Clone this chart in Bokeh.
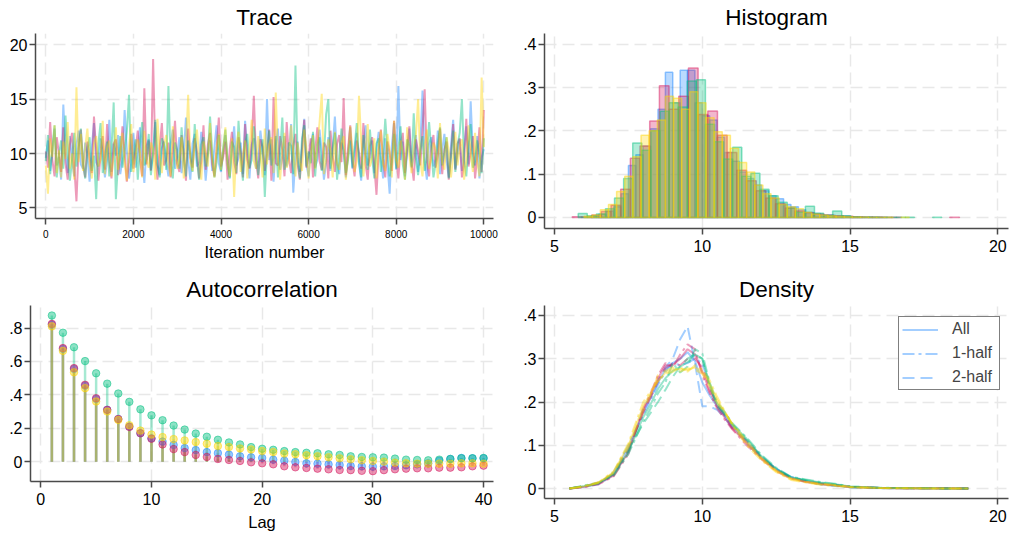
from bokeh.plotting import figure
from bokeh.layouts import column, row
from bokeh.models import FixedTicker, Range1d, Legend, LegendItem
from bokeh.embed import file_html
from bokeh.resources import INLINE

FONT = "Liberation Sans"
CHAIN_COLORS = ["#1a85ff", "#d41159", "#00bf7f", "#ffd400"]
AXIS_COLOR = "#4a4a4a"
GRID_COLOR = "#e8e8e8"

# ---------------- Trace data (sampled every 50 iterations) ----------------
iterations = list(range(0, 10001, 50))
trace_blue = [
    9.6, 11.2, 8.4, 10.1, 12.3, 8.9, 9.7, 7.6, 14.5, 10.4, 8.2, 11.6, 9.3, 7.9, 10.8, 12.1, 9.0, 8.6, 11.0, 9.9,
    7.4, 10.6, 12.8, 9.2, 8.8, 11.4, 10.0, 7.8, 9.5, 13.1, 8.3, 10.9, 9.8, 11.7, 8.1, 9.4, 14.0, 10.3, 7.7, 9.1,
    11.9, 8.7, 10.2, 12.4, 9.6, 7.3, 10.7, 11.3, 8.5, 9.9, 12.9, 9.0, 8.0, 10.5, 11.1, 9.3, 7.9, 10.8, 12.2, 8.6,
    9.7, 11.5, 8.2, 10.0, 13.3, 9.4, 7.6, 10.9, 11.8, 8.8, 9.2, 12.0, 10.4, 7.5, 9.8, 11.2, 8.4, 10.6, 12.6, 9.1,
    8.3, 10.1, 11.7, 9.5, 7.8, 10.3, 12.5, 8.9, 9.6, 11.0, 8.1, 13.0, 9.9, 7.7, 10.8, 11.4, 8.6, 9.3, 12.1, 10.2,
    8.0, 15.0, 9.4, 11.3, 7.4, 10.7, 12.3, 8.5, 9.8, 11.6, 8.8, 10.0, 12.7, 6.4, 9.7, 11.1, 8.3, 10.5, 13.2, 9.0,
    7.9, 10.9, 11.8, 8.7, 9.5, 12.2, 10.1, 7.6, 9.2, 11.5, 8.4, 10.6, 13.4, 9.3, 8.1, 11.0, 10.3, 7.8, 9.9, 12.4,
    8.6, 10.2, 11.9, 9.1, 7.5, 10.8, 12.6, 8.9, 9.6, 11.2, 8.2, 10.4, 12.0, 9.7, 7.7, 11.4, 9.0, 6.3, 10.7, 12.8,
    8.5, 16.2, 9.4, 11.1, 7.9, 10.0, 12.3, 8.7, 9.8, 11.7, 8.3, 10.6, 15.8, 9.2, 7.6, 10.9, 11.5, 8.8, 9.5, 12.1,
    8.1, 10.3, 11.8, 9.3, 7.8, 10.7, 13.1, 8.6, 9.9, 11.3, 8.4, 10.5, 12.5, 9.0, 14.8, 10.1, 8.9, 11.6, 7.7, 9.6,
    10.4]
trace_pink = [
    10.2, 8.7, 12.9, 9.4, 7.9, 11.5, 10.0, 8.3, 12.4, 9.1, 7.6, 10.8, 11.9, 8.8, 5.6, 10.5, 12.2, 9.0, 7.8, 11.1,
    9.6, 8.2, 13.4, 10.3, 7.5, 9.8, 11.6, 8.5, 12.7, 9.3, 7.7, 10.9, 11.3, 8.0, 9.7, 12.5, 10.1, 7.4, 9.2, 11.8,
    8.6, 10.4, 12.1, 9.5, 7.9, 16.0, 9.0, 11.2, 8.4, 18.7, 9.9, 7.6, 10.6, 12.8, 8.9, 9.4, 11.0, 7.8, 10.3, 13.0,
    9.1, 8.3, 11.7, 10.0, 7.5, 12.3, 9.6, 8.7, 11.4, 10.2, 7.7, 9.3, 12.6, 8.5, 10.8, 11.9, 9.0, 7.9, 10.5, 13.3,
    8.8, 9.7, 11.1, 7.6, 10.4, 12.0, 9.2, 8.1, 11.5, 10.1, 7.8, 12.7, 9.5, 8.6, 10.9, 15.3, 9.4, 7.7, 11.3, 10.6,
    8.4, 9.9, 12.2, 7.5, 15.2, 9.1, 8.9, 11.6, 10.3, 7.9, 12.9, 9.6, 8.2, 10.7, 11.8, 9.0, 7.6, 10.5, 13.1, 8.7,
    9.8, 11.4, 7.8, 10.2, 12.4, 9.3, 8.5, 11.0, 10.6, 7.7, 12.1, 9.7, 8.3, 10.9, 11.7, 9.2, 15.1, 8.0, 10.4, 12.6,
    9.4, 7.9, 11.2, 10.1, 8.6, 12.8, 9.0, 7.6, 10.7, 11.5, 8.8, 6.2, 10.3, 12.2, 9.5, 7.8, 11.1, 10.0, 8.4, 13.0,
    9.6, 7.7, 10.8, 11.9, 8.2, 10.5, 12.5, 9.1, 7.5, 11.3, 10.2, 8.9, 12.0, 15.9, 9.3, 7.9, 10.6, 11.7, 8.7, 9.9,
    12.3, 8.1, 10.4, 11.1, 7.6, 9.8, 12.7, 8.5, 10.9, 11.4, 7.8, 9.2, 13.2, 8.8, 10.1, 11.6, 7.7, 9.7, 12.4, 8.3,
    14.0]
trace_green = [
    9.3, 11.7, 8.1, 10.5, 12.6, 7.8, 9.9, 11.2, 8.6, 13.5, 10.0, 7.5, 9.4, 11.9, 8.8, 10.7, 12.3, 9.1, 7.7, 10.3,
    11.5, 8.4, 9.8, 5.8, 10.9, 12.8, 8.2, 9.6, 11.1, 7.9, 10.4, 14.7, 5.8, 9.2, 11.6, 8.7, 10.1, 12.0, 15.4, 8.3,
    9.7, 11.3, 7.6, 10.6, 12.9, 8.9, 9.5, 11.8, 8.0, 10.2, 13.1, 9.0, 7.8, 11.4, 10.8, 8.5, 16.2, 9.3, 7.7, 11.0,
    10.3, 8.6, 12.4, 9.6, 7.9, 11.2, 10.0, 8.3, 12.7, 9.4, 7.6, 10.8, 11.5, 8.8, 9.9, 13.4, 10.1, 7.8, 9.2, 11.7,
    8.4, 10.5, 12.2, 9.0, 7.7, 11.1, 10.6, 8.2, 13.0, 9.7, 7.5, 10.9, 11.8, 8.7, 9.4, 12.5, 10.2, 8.0, 9.8, 11.3,
    6.0, 10.4, 12.1, 8.9, 9.6, 11.6, 7.8, 10.0, 13.3, 8.5, 9.3, 11.0, 10.7, 8.1, 18.1, 9.5, 7.7, 11.4, 12.6, 8.8,
    10.2, 9.1, 12.0, 7.9, 10.8, 11.5, 8.4, 9.7, 13.6, 15.0, 8.6, 10.5, 11.9, 7.6, 9.8, 12.3, 10.1, 8.2, 9.4, 11.2,
    8.7, 10.6, 12.8, 9.3, 7.8, 11.7, 10.0, 8.5, 12.2, 9.6, 7.7, 10.9, 11.4, 8.3, 9.9, 13.2, 10.3, 7.9, 9.2, 11.8,
    8.6, 10.4, 12.5, 9.0, 7.6, 11.3, 10.7, 8.8, 13.7, 9.5, 8.0, 10.2, 11.6, 8.4, 9.7, 12.9, 10.5, 7.8, 9.1, 11.0,
    12.4, 8.9, 10.1, 11.5, 7.7, 9.6, 12.1, 8.3, 10.8, 11.9, 15.0, 9.4, 7.9, 10.6, 12.7, 8.7, 9.3, 11.2, 10.0, 8.2,
    11.4]
trace_yellow = [
    8.9, 6.3, 11.4, 9.7, 12.6, 8.2, 10.3, 7.8, 11.1, 9.5, 12.9, 8.6, 10.0, 7.6, 16.1, 9.2, 11.8, 8.4, 10.6, 12.3,
    9.0, 7.7, 10.9, 11.6, 8.8, 9.4, 13.0, 8.1, 10.5, 11.2, 7.9, 9.8, 12.4, 8.5, 10.2, 11.9, 9.1, 7.5, 10.7, 12.7,
    8.3, 9.6, 11.3, 10.1, 7.8, 12.1, 9.3, 8.7, 11.0, 10.4, 7.6, 13.2, 9.9, 8.2, 10.8, 11.7, 9.0, 7.9, 12.5, 10.3,
    8.6, 9.5, 11.5, 7.7, 10.6, 15.4, 9.2, 8.4, 10.9, 12.2, 9.7, 7.6, 11.1, 10.0, 8.8, 12.8, 9.4, 7.8, 10.5, 11.8,
    8.5, 10.2, 12.4, 9.1, 7.9, 11.4, 6.0, 10.7, 12.0, 8.3, 9.8, 11.2, 7.7, 10.4, 13.1, 9.3, 8.6, 11.6, 10.1, 7.8,
    12.3, 9.0, 10.8, 11.5, 8.2, 15.6, 9.6, 7.6, 10.3, 11.9, 8.7, 9.4, 12.6, 10.0, 7.9, 11.0, 9.2, 8.4, 12.2, 10.5,
    7.7, 9.9, 11.7, 8.6, 10.6, 12.9, 15.5, 8.1, 9.5, 11.3, 10.2, 7.8, 12.0, 9.1, 8.5, 10.9, 11.6, 7.6, 9.7, 12.5,
    10.4, 8.3, 9.3, 15.3, 11.1, 7.9, 10.0, 12.7, 8.8, 9.6, 11.4, 7.7, 10.7, 12.1, 9.0, 8.4, 11.8, 10.3, 7.8, 13.0,
    9.4, 8.7, 11.2, 10.1, 7.6, 12.4, 9.8, 8.2, 10.5, 11.7, 15.0, 9.2, 7.9, 10.8, 12.2, 8.6, 9.5, 11.0, 10.4, 7.7,
    12.8, 9.1, 8.5, 11.5, 10.2, 7.8, 9.7, 12.0, 8.9, 10.6, 11.3, 7.6, 9.4, 12.6, 10.0, 8.3, 11.9, 9.2, 7.9, 17.0,
    10.6]

# ---------------- Histogram data (density per bin) ----------------
hist_start = [6.25, 5.6, 5.8, 6.0]
hist_width = [0.25, 0.3275, 0.3075, 0.275]
hist_blue = [0.004, 0.008, 0.015, 0.025, 0.055, 0.12, 0.145, 0.165, 0.205, 0.25, 0.335, 0.265, 0.34, 0.34,
             0.265, 0.235, 0.225, 0.185, 0.15, 0.13, 0.105, 0.09, 0.075, 0.062, 0.05, 0.043, 0.03, 0.025,
             0.018, 0.012, 0.009, 0.006, 0.005, 0.004, 0.003, 0.002, 0.001, 0.001, 0.0005, 0.0005]
hist_pink = [0.002, 0.002, 0.006, 0.014, 0.028, 0.065, 0.137, 0.165, 0.223, 0.304, 0.25, 0.28, 0.345, 0.238,
             0.246, 0.19, 0.15, 0.109, 0.085, 0.062, 0.045, 0.032, 0.022, 0.015, 0.011, 0.008, 0.006, 0.004,
             0.003, 0.002, 0.001, 0.001, 0.0005, 0.0005, 0.0, 0.0, 0.0, 0.0, 0.0, 0.0003]
hist_green = [0.009, 0.004, 0.008, 0.02, 0.045, 0.09, 0.172, 0.155, 0.2, 0.245, 0.265, 0.255, 0.315, 0.318,
              0.215, 0.175, 0.135, 0.162, 0.095, 0.102, 0.065, 0.05, 0.035, 0.022, 0.012, 0.026, 0.01, 0.005,
              0.015, 0.004, 0.002, 0.001, 0.001, 0.0005, 0.0005, 0.0005, 0.0005, 0.0, 0.0, 0.0003]
hist_yellow = [0.003, 0.006, 0.018, 0.03, 0.06, 0.095, 0.14, 0.19, 0.2, 0.225, 0.28, 0.275, 0.25, 0.29,
               0.265, 0.23, 0.198, 0.19, 0.16, 0.127, 0.105, 0.075, 0.055, 0.045, 0.03, 0.025, 0.02, 0.012,
               0.008, 0.006, 0.004, 0.003, 0.002, 0.001, 0.001, 0.0005, 0.0005, 0.0005, 0.0, 0.0004]

# ---------------- Autocorrelation data ----------------
lags = list(range(1, 41))
acf_blue = [0.82, 0.675, 0.555, 0.455, 0.375, 0.31, 0.255, 0.21, 0.17, 0.14, 0.12, 0.10, 0.081, 0.069, 0.057,
            0.051, 0.042, 0.032, 0.026, 0.022, 0.012, 0.006, -0.002, -0.01, -0.012, -0.016, -0.02, -0.026,
            -0.028, -0.03, -0.028, -0.026, -0.022, -0.016, -0.01, 0.006, 0.016, 0.022, 0.02, 0.02]
acf_pink = [0.825, 0.68, 0.56, 0.46, 0.38, 0.31, 0.255, 0.208, 0.17, 0.137, 0.103, 0.075, 0.057, 0.04, 0.028,
            0.016, 0.01, 0.004, -0.004, -0.01, -0.016, -0.028, -0.034, -0.038, -0.042, -0.046, -0.05, -0.051,
            -0.055, -0.057, -0.051, -0.046, -0.042, -0.04, -0.04, -0.036, -0.036, -0.034, -0.028, -0.024]
acf_green = [0.875, 0.772, 0.685, 0.602, 0.529, 0.467, 0.408, 0.358, 0.313, 0.277, 0.248, 0.216, 0.192, 0.168,
             0.149, 0.131, 0.115, 0.103, 0.087, 0.077, 0.071, 0.063, 0.057, 0.053, 0.05, 0.044, 0.04, 0.032,
             0.028, 0.026, 0.024, 0.018, 0.012, 0.01, 0.008, 0.012, 0.016, 0.02, 0.02, 0.022]
acf_yellow = [0.81, 0.663, 0.535, 0.44, 0.36, 0.30, 0.25, 0.218, 0.186, 0.162, 0.147, 0.135, 0.127, 0.117,
              0.107, 0.093, 0.087, 0.079, 0.073, 0.063, 0.057, 0.048, 0.044, 0.038, 0.032, 0.026, 0.02, 0.014,
              0.008, 0.004, 0.0, -0.006, -0.01, -0.012, -0.012, -0.012, -0.012, -0.01, -0.01, -0.012]

# ---------------- Density data ----------------
dens_x = [5.5, 6.0, 6.5, 7.0, 7.5, 8.0, 8.25, 8.5, 8.75, 9.0, 9.25, 9.5, 9.75, 10.0, 10.25, 10.5, 10.75, 11.0,
          11.5, 12.0, 12.5, 13.0, 13.5, 14.0, 14.5, 15.0, 16.0, 17.0, 18.0, 19.0]
dens_blue_all = [0.0, 0.004, 0.011, 0.035, 0.095, 0.178, 0.21, 0.245, 0.275, 0.29, 0.3, 0.315, 0.295, 0.245,
                 0.215, 0.19, 0.168, 0.145, 0.108, 0.072, 0.045, 0.026, 0.017, 0.01, 0.007, 0.003, 0.001,
                 0.0005, 0.0002, 0.0]
dens_blue_h1 = [0.0, 0.004, 0.012, 0.038, 0.1, 0.17, 0.205, 0.24, 0.27, 0.29, 0.285, 0.29, 0.3, 0.29, 0.235,
                0.195, 0.17, 0.15, 0.105, 0.07, 0.046, 0.027, 0.018, 0.01, 0.006, 0.003, 0.001, 0.0005, 0.0002, 0.0]
dens_blue_h2 = [0.0, 0.005, 0.01, 0.032, 0.088, 0.185, 0.215, 0.25, 0.28, 0.3, 0.345, 0.375, 0.29, 0.19, 0.19,
                0.182, 0.165, 0.14, 0.11, 0.075, 0.044, 0.025, 0.016, 0.01, 0.007, 0.003, 0.001, 0.0005, 0.0002, 0.0]
dens_pink_all = [0.0, 0.004, 0.012, 0.03, 0.085, 0.18, 0.215, 0.255, 0.285, 0.285, 0.3, 0.322, 0.31, 0.27,
                 0.225, 0.19, 0.165, 0.14, 0.105, 0.07, 0.042, 0.024, 0.016, 0.011, 0.008, 0.004, 0.0015,
                 0.0008, 0.0005, 0.0002]
dens_pink_h1 = [0.0, 0.003, 0.01, 0.028, 0.08, 0.185, 0.22, 0.262, 0.29, 0.28, 0.31, 0.333, 0.322, 0.262, 0.22,
                0.185, 0.16, 0.138, 0.1, 0.068, 0.04, 0.023, 0.015, 0.01, 0.007, 0.004, 0.0015, 0.0008, 0.0005,
                0.0003]
dens_pink_h2 = [0.0, 0.005, 0.014, 0.033, 0.09, 0.175, 0.21, 0.248, 0.278, 0.29, 0.285, 0.3, 0.3, 0.28, 0.232,
                0.196, 0.17, 0.142, 0.11, 0.072, 0.044, 0.025, 0.017, 0.012, 0.008, 0.004, 0.0015, 0.0008,
                0.0004, 0.0002]
dens_green_all = [0.0, 0.006, 0.013, 0.033, 0.085, 0.165, 0.195, 0.23, 0.255, 0.272, 0.282, 0.292, 0.31, 0.3,
                  0.24, 0.195, 0.175, 0.15, 0.115, 0.075, 0.046, 0.026, 0.02, 0.014, 0.01, 0.005, 0.002, 0.001,
                  0.0004, 0.0]
dens_green_h1 = [0.0, 0.007, 0.014, 0.03, 0.08, 0.155, 0.185, 0.22, 0.245, 0.29, 0.268, 0.282, 0.322, 0.312,
                 0.245, 0.2, 0.178, 0.152, 0.118, 0.078, 0.048, 0.027, 0.021, 0.015, 0.011, 0.005, 0.002, 0.001,
                 0.0004, 0.0]
dens_green_h2 = [0.0, 0.005, 0.012, 0.036, 0.09, 0.15, 0.175, 0.2, 0.228, 0.258, 0.282, 0.3, 0.31, 0.3, 0.236,
                 0.19, 0.172, 0.148, 0.112, 0.072, 0.044, 0.025, 0.019, 0.013, 0.009, 0.004, 0.0015, 0.0008,
                 0.0004, 0.0]
dens_yellow_all = [0.0, 0.005, 0.014, 0.038, 0.1, 0.19, 0.22, 0.248, 0.268, 0.275, 0.276, 0.274, 0.28, 0.27,
                   0.242, 0.205, 0.178, 0.15, 0.105, 0.068, 0.04, 0.022, 0.015, 0.01, 0.007, 0.003, 0.001,
                   0.0005, 0.0, 0.0]
dens_yellow_h1 = [0.0, 0.006, 0.015, 0.04, 0.105, 0.2, 0.225, 0.25, 0.265, 0.27, 0.28, 0.27, 0.285, 0.275,
                  0.25, 0.212, 0.18, 0.148, 0.1, 0.065, 0.038, 0.02, 0.014, 0.009, 0.006, 0.003, 0.001, 0.0005,
                  0.0, 0.0]
dens_yellow_h2 = [0.0, 0.004, 0.013, 0.036, 0.095, 0.18, 0.215, 0.262, 0.272, 0.28, 0.27, 0.278, 0.275, 0.265,
                  0.235, 0.198, 0.176, 0.152, 0.11, 0.071, 0.042, 0.024, 0.016, 0.011, 0.008, 0.004, 0.0012,
                  0.0005, 0.0, 0.0]
legend_labels = ["All", "1-half", "2-half"]


def style_fig(p, title, xticks, yticks, ylabels=None, xlabels=None):
    p.title.text = title
    p.title.align = "center"
    p.title.vertical_align = "top"
    p.title.text_font = FONT
    p.title.text_font_size = "22.5px"
    p.title.text_font_style = "normal"
    p.title.text_color = "black"
    p.title.standoff = 4
    p.outline_line_color = None
    p.background_fill_color = "white"
    p.border_fill_color = "white"
    for ax in (p.xaxis[0], p.yaxis[0]):
        ax.axis_line_color = AXIS_COLOR
        ax.axis_line_width = 1.5
        ax.major_tick_line_color = AXIS_COLOR
        ax.major_tick_line_width = 1.5
        ax.major_tick_in = 0
        ax.major_tick_out = 6
        ax.minor_tick_line_color = None
        ax.major_label_text_font = FONT
        ax.major_label_text_font_size = "16px"
        ax.major_label_text_color = "black"
        ax.major_label_standoff = 2
        ax.axis_label_text_font = FONT
        ax.axis_label_text_font_size = "16.5px"
        ax.axis_label_text_font_style = "normal"
        ax.axis_label_text_color = "black"
        ax.axis_label_standoff = 3
    p.xaxis[0].major_label_standoff = 5
    p.xaxis[0].ticker = FixedTicker(ticks=xticks)
    p.yaxis[0].ticker = FixedTicker(ticks=yticks)
    if ylabels:
        p.yaxis[0].major_label_overrides = dict(zip(yticks, ylabels))
    if xlabels:
        p.xaxis[0].major_label_overrides = dict(zip(xticks, xlabels))
    for g in (p.xgrid[0], p.ygrid[0]):
        g.grid_line_color = GRID_COLOR
        g.grid_line_width = 1.5
        g.grid_line_dash = "12 6"
    p.xgrid[0].ticker = FixedTicker(ticks=xticks)
    p.ygrid[0].ticker = FixedTicker(ticks=yticks)


common = dict(output_backend="svg", toolbar_location=None, frame_align=False)

# ---------------- Trace ----------------
p1 = figure(width=505, height=265, x_range=Range1d(-235, 10221), y_range=Range1d(4.02, 21.04),
            min_border_left=35, min_border_right=12, min_border_top=33, min_border_bottom=47, **common)
style_fig(p1, "Trace", [0, 2000, 4000, 6000, 8000, 10000], [5, 10, 15, 20])
p1.xaxis[0].major_label_text_font_size = "10px"
p1.xaxis[0].axis_label = "Iteration number"
p1.xaxis[0].axis_label_standoff = 2
for vals, c in zip([trace_blue, trace_pink, trace_green, trace_yellow], CHAIN_COLORS):
    p1.line(iterations, vals, line_color=c, line_alpha=0.42, line_width=2.0)

# ---------------- Histogram ----------------
p2 = figure(width=511, height=265, x_range=Range1d(4.66, 20.36), y_range=Range1d(-0.0254, 0.4247),
            min_border_left=39, min_border_right=8, min_border_top=33, min_border_bottom=37, **common)
style_fig(p2, "Histogram", [5, 10, 15, 20], [0, 0.1, 0.2, 0.3, 0.4], ["0", ".1", ".2", ".3", ".4"])
for start, w, heights, c in zip(hist_start, hist_width, [hist_blue, hist_pink, hist_green, hist_yellow],
                                CHAIN_COLORS):
    lefts, rights, tops = [], [], []
    for i, h in enumerate(heights):
        if h > 0:
            lefts.append(start + i * w)
            rights.append(start + (i + 1) * w)
            tops.append(h)
    p2.quad(left=lefts, right=rights, bottom=0, top=tops, fill_color=c, fill_alpha=0.3,
            line_color=c, line_alpha=0.45, line_width=1.5)

# ---------------- Autocorrelation ----------------
p3 = figure(width=505, height=268, x_range=Range1d(-0.93, 40.9), y_range=Range1d(-0.119, 0.935),
            min_border_left=30, min_border_right=12, min_border_top=40, min_border_bottom=51, **common)
style_fig(p3, "Autocorrelation", [0, 10, 20, 30, 40], [0, 0.2, 0.4, 0.6, 0.8],
          ["0", ".2", ".4", ".6", ".8"])
p3.xaxis[0].axis_label = "Lag"
p3.xaxis[0].axis_label_standoff = 5
for vals, c in zip([acf_blue, acf_pink, acf_green, acf_yellow], CHAIN_COLORS):
    p3.segment(x0=lags, y0=[0] * len(lags), x1=lags, y1=vals, line_color=c, line_alpha=0.35, line_width=2.5)
for vals, c in zip([acf_blue, acf_pink, acf_green, acf_yellow], CHAIN_COLORS):
    p3.scatter(lags, vals, size=7.5, fill_color=c, fill_alpha=0.45, line_color=c, line_alpha=0.5, line_width=1)

# ---------------- Density ----------------
p4 = figure(width=511, height=268, x_range=Range1d(4.66, 20.36), y_range=Range1d(-0.023, 0.423),
            min_border_left=39, min_border_right=8, min_border_top=40, min_border_bottom=35, **common)
style_fig(p4, "Density", [5, 10, 15, 20], [0, 0.1, 0.2, 0.3, 0.4], ["0", ".1", ".2", ".3", ".4"])
dashes = ["solid", "12 4 3 4", "12 6"]
density_sets = [
    [dens_blue_all, dens_blue_h1, dens_blue_h2],
    [dens_pink_all, dens_pink_h1, dens_pink_h2],
    [dens_green_all, dens_green_h1, dens_green_h2],
    [dens_yellow_all, dens_yellow_h1, dens_yellow_h2],
]
legend_renderers = []
for ci, (curves, c) in enumerate(zip(density_sets, CHAIN_COLORS)):
    for vals, d in zip(curves, dashes):
        r = p4.line(dens_x, vals, line_color=c, line_alpha=0.4, line_width=2, line_dash=d)
        if ci == 0:
            legend_renderers.append(r)

legend = Legend(items=[LegendItem(label=lab, renderers=[r]) for lab, r in zip(legend_labels, legend_renderers)],
                location=(354, 108))
legend.margin = 0
legend.padding = 3
legend.spacing = 6
legend.glyph_width = 36
legend.glyph_height = 17
legend.label_height = 17
legend.label_width = 44
legend.label_standoff = 14
legend.label_text_font = FONT
legend.label_text_font_size = "16px"
legend.border_line_color = "black"
legend.border_line_width = 1
legend.background_fill_color = "white"
legend.background_fill_alpha = 1
p4.add_layout(legend)

layout = column(row(p1, p2), row(p3, p4))
open("out.html", "w").write(file_html(layout, INLINE))
